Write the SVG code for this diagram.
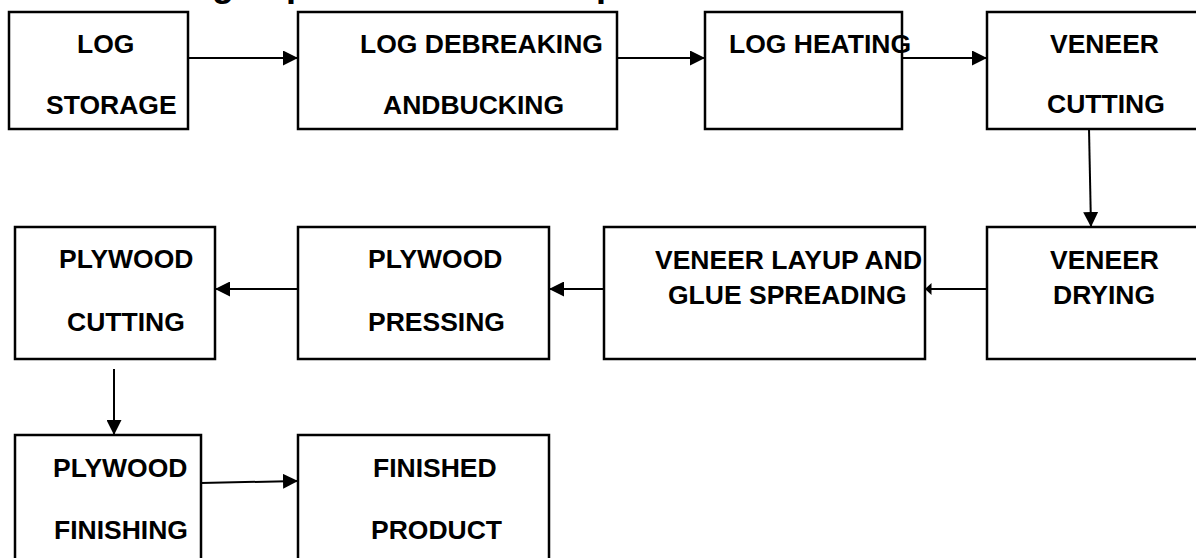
<svg xmlns="http://www.w3.org/2000/svg" width="1196" height="558" viewBox="0 0 1196 558">
<style>
  .box { fill: none; stroke: #000; stroke-width: 2.5; }
  .lbl { font-family: "Liberation Sans", Arial, sans-serif; font-weight: bold; font-size: 26.5px; fill: #000; }
  .ttl { font-family: "Liberation Sans", Arial, sans-serif; font-weight: bold; font-size: 36px; fill: #000; }
  .conn { fill: none; stroke: #000; stroke-width: 2; }
</style>
<defs>
  <marker id="arr" markerUnits="userSpaceOnUse" markerWidth="15" markerHeight="15" refX="15" refY="7.5" orient="auto">
    <path d="M0,0 L15,7.5 L0,15 z" fill="#000"/>
  </marker>
  <marker id="arrsmall" markerUnits="userSpaceOnUse" markerWidth="7" markerHeight="14" refX="6.5" refY="7" orient="auto">
    <path d="M0,1 L6.5,7 L0,13 z" fill="#000"/>
  </marker>
</defs>
<rect width="1196" height="558" fill="#fff"/>

<g id="title-fragments">
  <text class="ttl" x="212" y="-4">g</text>
  <text class="ttl" x="286" y="-4">p</text>
  <text class="ttl" x="596" y="-4">p</text>
</g>

<g id="connectors">
  <line class="conn" x1="188" y1="58" x2="298" y2="58" marker-end="url(#arr)"/>
  <line class="conn" x1="617" y1="58" x2="705" y2="58" marker-end="url(#arr)"/>
  <line class="conn" x1="902" y1="58" x2="987" y2="58" marker-end="url(#arr)"/>
  <line class="conn" x1="1089" y1="129" x2="1091" y2="227" marker-end="url(#arr)"/>
  <line class="conn" x1="987" y1="289" x2="925" y2="289" marker-end="url(#arrsmall)"/>
  <line class="conn" x1="604" y1="289" x2="549" y2="289" marker-end="url(#arr)"/>
  <line class="conn" x1="298" y1="289" x2="215" y2="289" marker-end="url(#arr)"/>
  <line class="conn" x1="114" y1="369" x2="114" y2="435" marker-end="url(#arr)"/>
  <line class="conn" x1="201" y1="483" x2="298" y2="481" marker-end="url(#arr)"/>
</g>

<g id="log-storage">
  <rect class="box" x="9" y="12" width="179" height="117"/>
  <text class="lbl" x="77" y="53">LOG</text>
  <text class="lbl" x="46" y="114">STORAGE</text>
</g>
<g id="log-debreaking">
  <rect class="box" x="298" y="12" width="319" height="117"/>
  <text class="lbl" x="360" y="53">LOG DEBREAKING</text>
  <text class="lbl" x="383" y="114">ANDBUCKING</text>
</g>
<g id="log-heating">
  <rect class="box" x="705" y="12" width="197" height="117"/>
  <text class="lbl" x="729" y="53">LOG HEATING</text>
</g>
<g id="veneer-cutting">
  <rect class="box" x="987" y="12" width="220" height="117"/>
  <text class="lbl" x="1050" y="53">VENEER</text>
  <text class="lbl" x="1047" y="113">CUTTING</text>
</g>
<g id="plywood-cutting">
  <rect class="box" x="15" y="227" width="200" height="132"/>
  <text class="lbl" x="59" y="268">PLYWOOD</text>
  <text class="lbl" x="67" y="331">CUTTING</text>
</g>
<g id="plywood-pressing">
  <rect class="box" x="298" y="227" width="251" height="132"/>
  <text class="lbl" x="368" y="268">PLYWOOD</text>
  <text class="lbl" x="368" y="331">PRESSING</text>
</g>
<g id="veneer-layup">
  <rect class="box" x="604" y="227" width="321" height="132"/>
  <text class="lbl" x="655" y="269">VENEER LAYUP AND</text>
  <text class="lbl" x="668" y="304">GLUE SPREADING</text>
</g>
<g id="veneer-drying">
  <rect class="box" x="987" y="227" width="220" height="132"/>
  <text class="lbl" x="1050" y="269">VENEER</text>
  <text class="lbl" x="1053" y="304">DRYING</text>
</g>
<g id="plywood-finishing">
  <rect class="box" x="15" y="435" width="186" height="140"/>
  <text class="lbl" x="53" y="477">PLYWOOD</text>
  <text class="lbl" x="54" y="539">FINISHING</text>
</g>
<g id="finished-product">
  <rect class="box" x="298" y="435" width="251" height="140"/>
  <text class="lbl" x="373" y="477">FINISHED</text>
  <text class="lbl" x="371" y="539">PRODUCT</text>
</g>
</svg>
